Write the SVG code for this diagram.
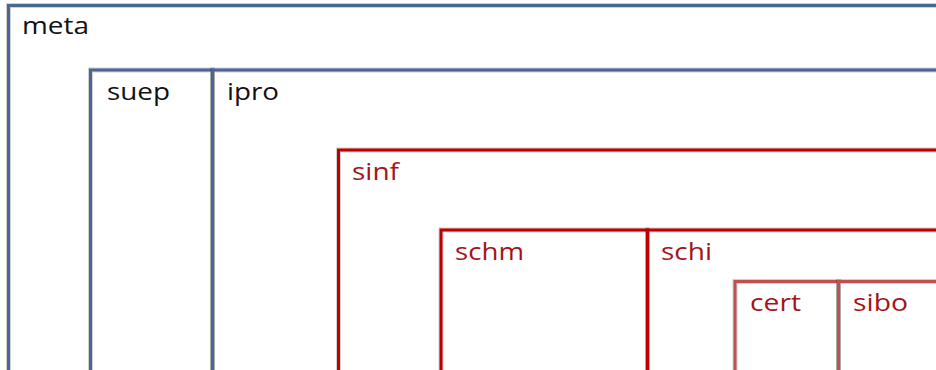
<svg xmlns="http://www.w3.org/2000/svg" width="936" height="370" viewBox="0 0 936 370">
  <style>
    .box { fill: none; stroke-width: 3; }
    .shade { fill: none; stroke: #000; stroke-opacity: 0.18; stroke-width: 5; }
    .blue { stroke: #4a6794; }
    .red { stroke: #c00000; }
    .pale { stroke: #c0504d; }
    text { font-family: "Open Sans", "Liberation Sans", sans-serif; font-size: 23px; }
    .dark { fill: #111; }
    .wine { fill: #a3141a; }
  </style>
  <rect width="936" height="370" fill="#fff"/>

  <g id="meta">
    <rect class="shade" x="8.5" y="5.5" width="960" height="420"/>
    <rect class="box blue" x="8.5" y="5.5" width="960" height="420"/>
    <text class="dark" x="22" y="34" textLength="67" lengthAdjust="spacingAndGlyphs">meta</text>
  </g>

  <g id="suep">
    <rect class="shade" x="90.5" y="70" width="122" height="360"/>
    <rect class="box blue" x="90.5" y="70" width="122" height="360"/>
    <text class="dark" x="107" y="100" textLength="63" lengthAdjust="spacingAndGlyphs">suep</text>
  </g>

  <g id="ipro">
    <rect class="shade" x="212.5" y="70" width="760" height="360"/>
    <rect class="box blue" x="212.5" y="70" width="760" height="360"/>
    <text class="dark" x="227" y="100" textLength="52" lengthAdjust="spacingAndGlyphs">ipro</text>
  </g>

  <g id="sinf">
    <rect class="shade" x="338.5" y="150" width="640" height="280"/>
    <rect class="box red" x="338.5" y="150" width="640" height="280"/>
    <text class="wine" x="352" y="180" textLength="47" lengthAdjust="spacingAndGlyphs">sinf</text>
  </g>

  <g id="schm">
    <rect class="shade" x="441" y="230" width="206.5" height="200"/>
    <rect class="box red" x="441" y="230" width="206.5" height="200"/>
    <text class="wine" x="455" y="260" textLength="69" lengthAdjust="spacingAndGlyphs">schm</text>
  </g>

  <g id="schi">
    <rect class="shade" x="647.5" y="230" width="340" height="200"/>
    <rect class="box red" x="647.5" y="230" width="340" height="200"/>
    <text class="wine" x="661" y="260" textLength="51" lengthAdjust="spacingAndGlyphs">schi</text>
  </g>

  <g id="cert">
    <rect class="shade" x="735" y="281.5" width="103.5" height="150"/>
    <rect class="box pale" x="735" y="281.5" width="103.5" height="150"/>
    <text class="wine" x="750" y="311" textLength="51" lengthAdjust="spacingAndGlyphs">cert</text>
  </g>

  <g id="sibo">
    <rect class="shade" x="838.5" y="281.5" width="200" height="150"/>
    <rect class="box pale" x="838.5" y="281.5" width="200" height="150"/>
    <text class="wine" x="853" y="311" textLength="55" lengthAdjust="spacingAndGlyphs">sibo</text>
  </g>

  <g id="connectors"/>
</svg>
